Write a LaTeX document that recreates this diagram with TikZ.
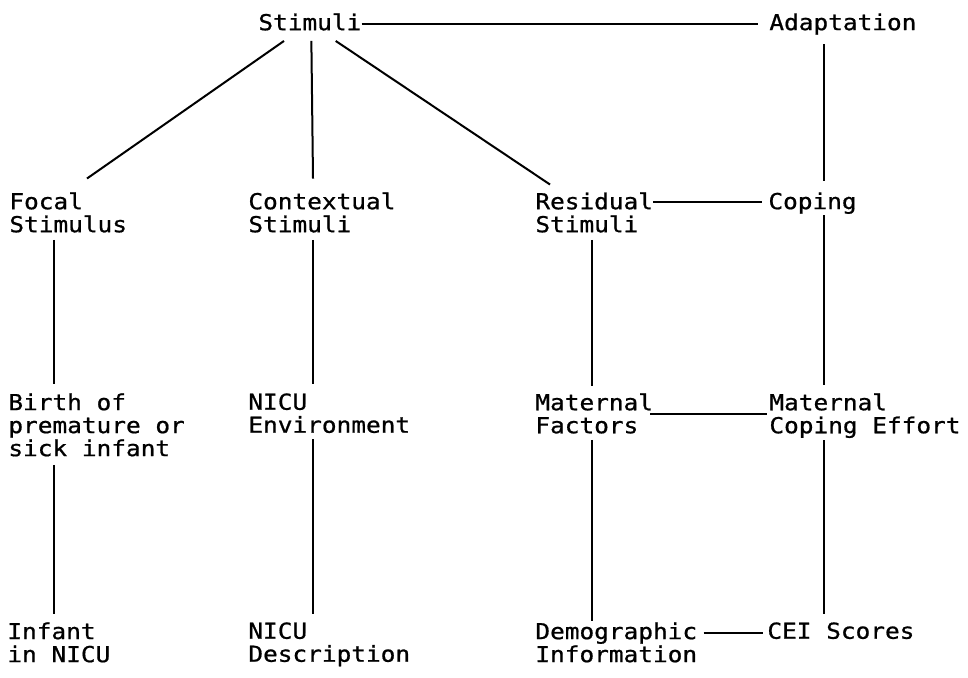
\documentclass[tikz,border=0pt]{standalone}
\usepackage{fontspec}
\newfontfamily\memofont[FakeStretch=1.11,FakeBold=0.8]{DejaVu Sans Mono}
\newcommand\lblfont{\memofont\fontsize{11}{11.5}\selectfont}
\usetikzlibrary{calc}

\begin{document}
\begin{tikzpicture}[x=0.5pt,y=-0.5pt,
  lbl/.style={anchor=north west,inner sep=0pt,align=left,font=\lblfont},
  conn/.style={line width=1pt,color=black}]
\useasboundingbox (0,0) rectangle (968,677);

\node[lbl] (Stim) at (258,13) {Stimuli};
\node[lbl] (Adapt) at (769,13) {Adaptation};

\node[lbl] (Focal) at (9,192) {Focal\\Stimulus};
\node[lbl] (Context) at (248,192) {Contextual\\Stimuli};
\node[lbl] (Resid) at (535,192) {Residual\\Stimuli};
\node[lbl] (Coping) at (768,192) {Coping};

\node[lbl] (Birth) at (8,393) {Birth of\\premature or\\sick infant};
\node[lbl] (Env) at (248,393) {NICU\\Environment};
\node[lbl] (MatFac) at (535,393) {Maternal\\Factors};
\node[lbl] (MatCop) at (769,393) {Maternal\\Coping Effort};

\node[lbl] (Infant) at (7,622) {Infant\\in NICU};
\node[lbl] (Descr) at (248,622) {NICU\\Description};
\node[lbl] (Demo) at (535,622) {Demographic\\Information};
\node[lbl] (CEI) at (767,622) {CEI Scores};

\draw[conn] ([yshift=-1pt]Stim.east) -- ([shift={(-5.5pt,-1pt)}]Stim.east -| Adapt.west);
\draw[conn] ([shift={(26,10)}]Stim.south west) -- ([shift={(78,-13.5)}]Focal.north west);
\draw[conn] ([shift={(1.5,10)}]Stim.south) -- ([shift={(65,-13.5)}]Context.north west);
\draw[conn] ([shift={(-26,10)}]Stim.south east) -- ([shift={(15,-7.5)}]Resid.north west);
\draw[conn] ([shift={(55,9)}]Adapt.south west) -- ([shift={(56,-11.5)}]Coping.north west);

\draw[conn] ([yshift=-5pt]Resid.north east) -- ([shift={(-3pt,-5pt)}]Resid.north east -| Coping.west);
\draw[conn] ([shift={(56,1)}]Coping.south west) -- ([shift={(55,-8)}]MatCop.north west);
\draw[conn] ([shift={(45,7)}]Focal.south west) -- ([shift={(46,-9.5)}]Birth.north west);
\draw[conn] ([shift={(65,7)}]Context.south west) -- ([shift={(65,-9.5)}]Env.north west);
\draw[conn] ([shift={(57,7)}]Resid.south west) -- ([shift={(57,-7.5)}]MatFac.north west);

\draw[conn] ([shift={(-3,20.5)}]MatFac.north east) -- ([shift={(-2,20.5)}]MatCop.north west);
\draw[conn] ([shift={(46,8)}]Birth.south west) -- ([shift={(47,-8.5)}]Infant.north west);
\draw[conn] ([shift={(65,6)}]Env.south west) -- ([shift={(65,-8.5)}]Descr.north west);
\draw[conn] ([shift={(57,6)}]MatFac.south west) -- ([shift={(57,-1.5)}]Demo.north west);
\draw[conn] ([shift={(55,2)}]MatCop.south west) -- ([shift={(57,-8.5)}]CEI.north west);

\draw[conn] ([shift={(6,10.5)}]Demo.north east) -- ([shift={(-4,10.5)}]CEI.north west);

\end{tikzpicture}
\end{document}
